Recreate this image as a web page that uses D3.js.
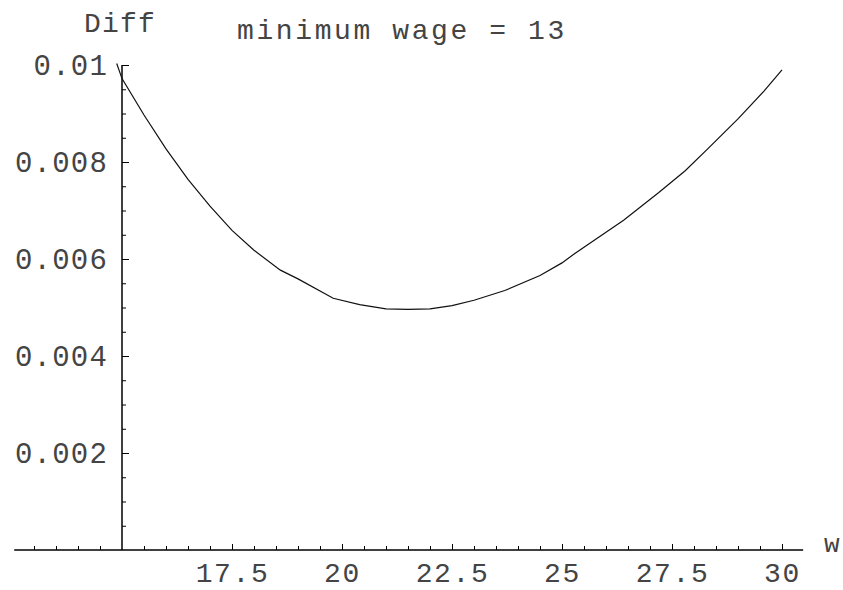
<!DOCTYPE html>
<meta charset="utf-8">
<head>
    <style>
        body { margin: 0; background: white; }
        svg text { font-family: "Liberation Mono", monospace; fill: #444; }
        .axis path { display: none; }
        .axis line { stroke: black; stroke-width: 1; }
    </style>
</head>
<body>
    <script src="https://d3js.org/d3.v7.min.js"></script>
    <div id="graphs"></div>
    <script>
        // data: w and Diff
        var wValues = [14.88, 15.0, 15.5, 16.0, 16.5, 17.0, 17.5, 18.0, 18.6, 19.0, 19.8, 20.4, 21.0, 21.5, 22.0,
            22.5, 23.0, 23.7, 24.5, 25.0, 25.3, 26.4, 27.2, 27.8, 28.3, 29.0, 29.6, 30.0];
        var diffValues = [0.01003, 0.00972, 0.00897, 0.00827, 0.00764, 0.00709, 0.00659, 0.00618, 0.00577, 0.00559,
            0.00519, 0.00506, 0.00497, 0.00496, 0.00497, 0.00504, 0.00515, 0.00535, 0.00566, 0.00592, 0.00612,
            0.00680, 0.00737, 0.00782, 0.00826, 0.00889, 0.00947, 0.00990];
        var xTickLabels = [17.5, 20, 22.5, 25, 27.5, 30];
        var yTickLabels = [0.002, 0.004, 0.006, 0.008, 0.01];
        var title = "minimum wage = 13";

        var width = 843, height = 590;

        var svg = d3.select("#graphs").append("svg")
            .attr("width", width)
            .attr("height", height);

        // scales
        var x = d3.scaleLinear().domain([15, 30]).range([122, 782]);
        var y = d3.scaleLinear().domain([0, 0.01]).range([550, 65]);

        // minor ticks every 0.5 on x, every 0.0005 on y
        var xMinor = d3.range(13, 30.01, 0.5).filter(function (v) { return v != 15 && xTickLabels.indexOf(v) < 0; });
        var yMinor = d3.range(0.0005, 0.0101, 0.0005).filter(function (v) {
            return !yTickLabels.some(function (t) { return Math.abs(t - v) < 1e-9; });
        });

        // x axis line
        svg.append("line")
            .attr("x1", x(12.55)).attr("x2", x(30.48))
            .attr("y1", y(0)).attr("y2", y(0))
            .attr("stroke", "black").attr("stroke-width", 1.5);

        // y axis line
        svg.append("line")
            .attr("x1", x(15)).attr("x2", x(15))
            .attr("y1", y(0)).attr("y2", y(0.01))
            .attr("stroke", "black").attr("stroke-width", 1.5);

        // x ticks (pointing up)
        svg.append("g").attr("class", "axis")
            .attr("transform", "translate(0," + y(0) + ")")
            .call(d3.axisTop(x).tickValues(xMinor).tickSize(4).tickFormat(""));
        svg.append("g").attr("class", "axis")
            .attr("transform", "translate(0," + y(0) + ")")
            .call(d3.axisTop(x).tickValues(xTickLabels).tickSize(6).tickFormat(""));
        // x labels
        svg.append("g").attr("class", "axis")
            .attr("transform", "translate(0," + y(0) + ")")
            .call(d3.axisBottom(x).tickValues(xTickLabels).tickSize(0).tickPadding(12)
                .tickFormat(function (d) { return String(d); }))
            .selectAll("text")
            .attr("font-size", 28).attr("letter-spacing", 1.6)
            .style("fill", "#444");

        // y ticks (pointing right)
        svg.append("g").attr("class", "axis")
            .attr("transform", "translate(" + x(15) + ",0)")
            .call(d3.axisRight(y).tickValues(yMinor).tickSize(4).tickFormat(""));
        svg.append("g").attr("class", "axis")
            .attr("transform", "translate(" + x(15) + ",0)")
            .call(d3.axisRight(y).tickValues(yTickLabels).tickSize(7).tickFormat(""));
        // y labels
        svg.append("g").attr("class", "axis")
            .attr("transform", "translate(" + x(15) + ",0)")
            .call(d3.axisLeft(y).tickValues(yTickLabels).tickSize(0).tickPadding(14)
                .tickFormat(function (d) { return String(d); }))
            .selectAll("text")
            .attr("font-size", 29).attr("letter-spacing", 1.2)
            .style("fill", "#444");

        // curve
        var pts = wValues.map(function (w, i) { return [w, diffValues[i]]; });
        svg.append("path")
            .datum(pts)
            .attr("fill", "none")
            .attr("stroke", "#111")
            .attr("stroke-width", 1.2)
            .attr("d", d3.line()
                .x(function (d) { return x(d[0]); })
                .y(function (d) { return y(d[1]); }));

        // axis names and title
        svg.append("text")
            .attr("x", 120).attr("y", 32)
            .attr("text-anchor", "middle")
            .attr("font-size", 28).attr("letter-spacing", 1.2)
            .text("Diff");

        svg.append("text")
            .attr("x", 824).attr("y", 552)
            .attr("font-size", 26)
            .text("w");

        svg.append("text")
            .attr("x", 402).attr("y", 39)
            .attr("text-anchor", "middle")
            .attr("font-size", 28).attr("letter-spacing", 2.6)
            .text(title);
    </script>
</body>
